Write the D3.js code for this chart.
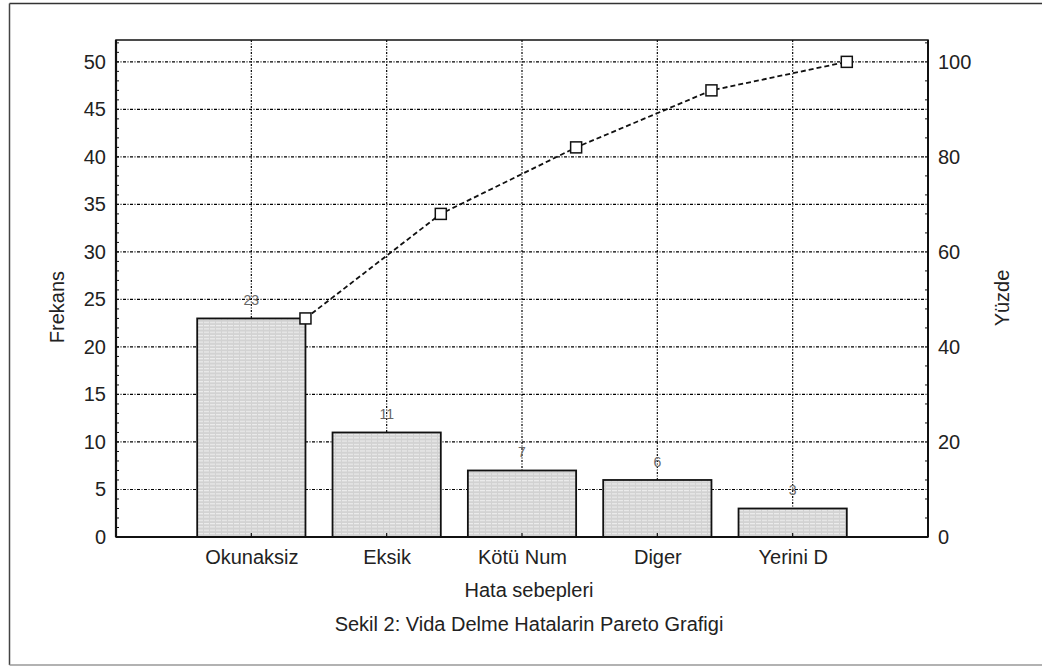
<!DOCTYPE html>
<html>
<head>
<meta charset="utf-8">
<script src="https://cdn.jsdelivr.net/npm/d3@7"></script>
<style>
  body { margin: 0; background: #fff; }
  text { font-family: "Liberation Sans", Arial, sans-serif; fill: #222; }
</style>
</head>
<body>
<svg id="chart"></svg>
<script>
// data
const categories = ["Okunaksiz", "Eksik", "Kötü Num", "Diger", "Yerini D"];
const counts = [23, 11, 7, 6, 3];
const cumPct = [46, 68, 82, 94, 100];
const leftTicks = [0, 5, 10, 15, 20, 25, 30, 35, 40, 45, 50];
const rightTicks = [0, 20, 40, 60, 80, 100];

const width = 1042;
const height = 666;
const plot = {left: 116, right: 928, top: 40, bottom: 537};

const svg = d3.select("#chart")
    .attr("width", width)
    .attr("height", height);

// striped fill like the original
const defs = svg.append("defs");
const pat = defs.append("pattern")
    .attr("id", "stripes")
    .attr("patternUnits", "userSpaceOnUse")
    .attr("width", 6)
    .attr("height", 3.3);
pat.append("rect").attr("width", 6).attr("height", 3.3).attr("fill", "#d2d2d2");
pat.append("rect").attr("y", 1.6).attr("width", 5).attr("height", 1.2).attr("fill", "#ededed");

// outer frame
svg.append("line").attr("x1", 9.5).attr("x2", width).attr("y1", 3.5).attr("y2", 3.5)
    .attr("stroke", "#333").attr("stroke-width", 1.5);
svg.append("line").attr("x1", 9.5).attr("x2", 9.5).attr("y1", 3.5).attr("y2", 665)
    .attr("stroke", "#444").attr("stroke-width", 1.5);
svg.append("line").attr("x1", 9.5).attr("x2", width).attr("y1", 665).attr("y2", 665)
    .attr("stroke", "#999").attr("stroke-width", 1.5);

const x = d3.scalePoint()
    .domain(categories)
    .range([plot.left, plot.right])
    .padding(1);
const barW = x.step() * 0.8;

const y = d3.scaleLinear().domain([0, 52.3]).range([plot.bottom, plot.top]);
const y2 = d3.scaleLinear().domain([0, 104.6]).range([plot.bottom, plot.top]);

const grid = svg.append("g");
grid.selectAll(".hgrid")
    .data(leftTicks.filter(d => d > 0))
    .enter().append("line")
    .attr("x1", plot.left).attr("x2", plot.right)
    .attr("y1", d => y(d)).attr("y2", d => y(d))
    .attr("stroke", "#000").attr("stroke-width", 1.2)
    .attr("stroke-dasharray", "3,1.5,1,1.5");
grid.selectAll(".vgrid")
    .data(categories)
    .enter().append("line")
    .attr("x1", d => x(d)).attr("x2", d => x(d))
    .attr("y1", plot.top).attr("y2", plot.bottom)
    .attr("stroke", "#000").attr("stroke-width", 1.2)
    .attr("stroke-dasharray", "2,1.5,1,1.5");

// bars
svg.selectAll(".bar")
    .data(counts)
    .enter().append("rect")
    .attr("x", (d, i) => x(categories[i]) - barW / 2)
    .attr("y", d => y(d))
    .attr("width", barW)
    .attr("height", d => plot.bottom - y(d))
    .attr("fill", "url(#stripes)")
    .attr("stroke", "#111")
    .attr("stroke-width", 1.8);

// value labels
svg.selectAll(".vlab")
    .data(counts)
    .enter().append("text")
    .attr("x", (d, i) => x(categories[i]))
    .attr("y", d => y(d) - 13)
    .attr("text-anchor", "middle")
    .attr("font-size", "14px")
    .style("fill", "#666")
    .text(d => d);

// plot frame
svg.append("rect")
    .attr("x", plot.left).attr("y", plot.top)
    .attr("width", plot.right - plot.left)
    .attr("height", plot.bottom - plot.top)
    .attr("fill", "none").attr("stroke", "#111").attr("stroke-width", 1.5);
svg.append("line").attr("x1", plot.left).attr("x2", plot.left)
    .attr("y1", plot.top).attr("y2", plot.bottom)
    .attr("stroke", "#111").attr("stroke-width", 2.2);
svg.append("line").attr("x1", plot.right).attr("x2", plot.right)
    .attr("y1", plot.top).attr("y2", plot.bottom)
    .attr("stroke", "#111").attr("stroke-width", 2);
svg.append("line").attr("x1", plot.left).attr("x2", plot.right)
    .attr("y1", plot.bottom).attr("y2", plot.bottom)
    .attr("stroke", "#111").attr("stroke-width", 2);

// left axis: labels + inner minor ticks
const leftAxis = d3.axisLeft(y).tickValues(leftTicks).tickSize(0).tickPadding(10);
svg.append("g")
    .attr("transform", `translate(${plot.left},0)`)
    .call(leftAxis)
    .call(g => g.select(".domain").remove())
    .call(g => g.selectAll("text").attr("font-size", "20px").attr("font-family", null));
svg.append("g").selectAll("line")
    .data(d3.range(0, 53))
    .enter().append("line")
    .attr("x1", plot.left).attr("x2", plot.left + 3)
    .attr("y1", d => y(d)).attr("y2", d => y(d))
    .attr("stroke", "#111").attr("stroke-width", 1);

// right axis
const rightAxis = d3.axisRight(y2).tickValues(rightTicks).tickSize(0).tickPadding(10);
svg.append("g")
    .attr("transform", `translate(${plot.right},0)`)
    .call(rightAxis)
    .call(g => g.select(".domain").remove())
    .call(g => g.selectAll("text").attr("font-size", "20px").attr("font-family", null));
svg.append("g").selectAll("line")
    .data(d3.range(0, 105, 4))
    .enter().append("line")
    .attr("x1", plot.right - 3).attr("x2", plot.right)
    .attr("y1", d => y2(d)).attr("y2", d => y2(d))
    .attr("stroke", "#111").attr("stroke-width", 1);

// bottom axis
const bottomAxis = d3.axisBottom(x).tickSize(0).tickPadding(13);
svg.append("g")
    .attr("transform", `translate(0,${plot.bottom})`)
    .call(bottomAxis)
    .call(g => g.select(".domain").remove())
    .call(g => g.selectAll("text").attr("font-size", "20px").attr("font-family", null));
svg.append("g").selectAll("line")
    .data(categories)
    .enter().append("line")
    .attr("x1", d => x(d)).attr("x2", d => x(d))
    .attr("y1", plot.bottom - 4).attr("y2", plot.bottom)
    .attr("stroke", "#111").attr("stroke-width", 1.2);

// cumulative line
const pts = cumPct.map((p, i) => [x(categories[i]) + barW / 2, y2(p)]);
svg.append("path")
    .attr("d", d3.line()(pts))
    .attr("fill", "none")
    .attr("stroke", "#111")
    .attr("stroke-width", 1.8)
    .attr("stroke-dasharray", "5,3");
svg.selectAll(".mark")
    .data(pts)
    .enter().append("rect")
    .attr("x", d => d[0] - 5.5)
    .attr("y", d => d[1] - 5.5)
    .attr("width", 11).attr("height", 11)
    .attr("fill", "#fff")
    .attr("stroke", "#111")
    .attr("stroke-width", 1.5);

// axis titles and caption
svg.append("text")
    .attr("transform", "translate(64,307) rotate(-90)")
    .attr("text-anchor", "middle")
    .attr("font-size", "20px")
    .text("Frekans");
svg.append("text")
    .attr("transform", "translate(1009,298) rotate(-90)")
    .attr("text-anchor", "middle")
    .attr("font-size", "20px")
    .text("Yüzde");
svg.append("text")
    .attr("x", 529).attr("y", 597)
    .attr("text-anchor", "middle")
    .attr("font-size", "20px")
    .text("Hata sebepleri");
svg.append("text")
    .attr("x", 529).attr("y", 631)
    .attr("text-anchor", "middle")
    .attr("font-size", "20px")
    .text("Sekil 2: Vida Delme Hatalarin Pareto Grafigi");
</script>
</body>
</html>
